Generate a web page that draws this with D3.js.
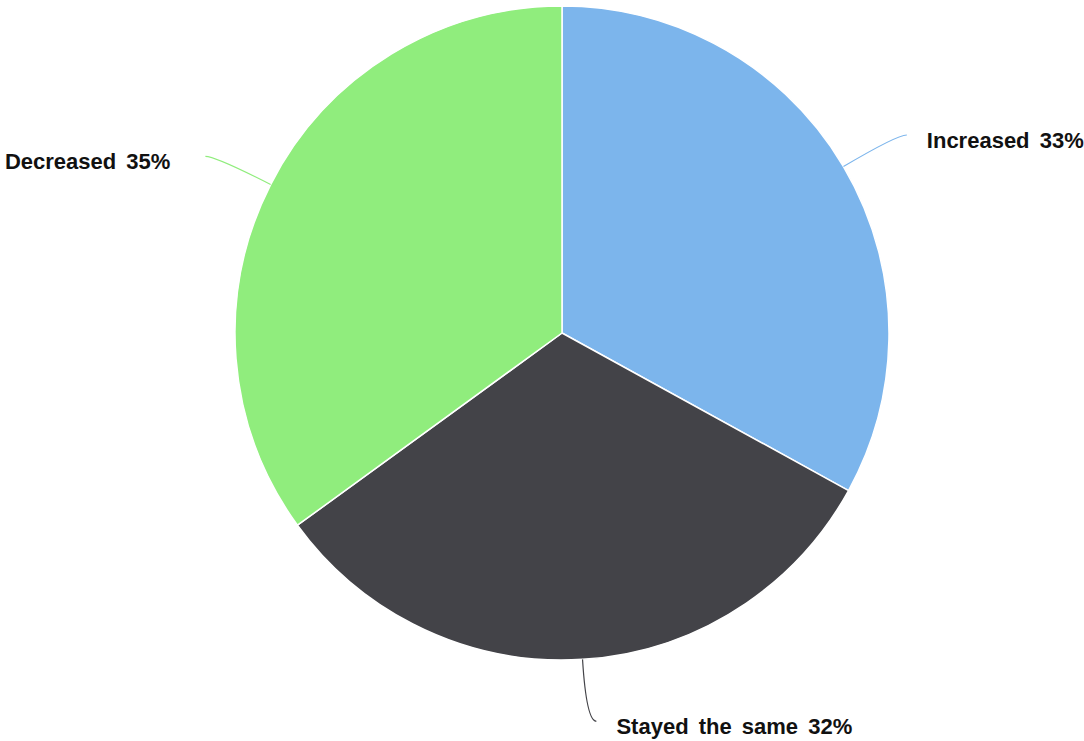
<!DOCTYPE html>
<html>
<head>
<meta charset="utf-8">
<script src="https://cdn.jsdelivr.net/npm/d3@7"></script>
<style>
  html, body { margin: 0; padding: 0; background: #ffffff; }
  svg { display: block; }
  .label { font-family: "Liberation Sans", Arial, sans-serif; font-weight: bold; font-size: 22px; word-spacing: 4px; fill: #111111; }
</style>
</head>
<body>
<svg id="chart" width="1084" height="741"></svg>
<script>
// Survey answers, in drawing order (clockwise from 12 o'clock)
const categories = ["Increased", "Stayed the same", "Decreased"];
const values = [33, 32, 35];
const colors = ["#7cb5ec", "#434348", "#90ed7d"];

const width = 1084, height = 741;
const cx = 562, cy = 333, radius = 327;
const labelRadius = radius + 62;

const svg = d3.select("#chart");
const g = svg.append("g").attr("transform", `translate(${cx},${cy})`);

const data = categories.map((c, i) => ({ name: c, value: values[i], color: colors[i] }));

const pie = d3.pie().value(d => d.value).sort(null);
const arcs = pie(data);
const arc = d3.arc().innerRadius(0).outerRadius(radius);

g.selectAll("path.slice")
  .data(arcs)
  .join("path")
  .attr("class", "slice")
  .attr("d", arc)
  .attr("fill", d => d.data.color)
  .attr("stroke", "#ffffff")
  .attr("stroke-width", 1.5)
  .attr("stroke-linejoin", "round");

// Point at a given radius along the slice's middle angle
function polar(a, r) {
  return [r * Math.sin(a), -r * Math.cos(a)];
}

arcs.forEach(d => {
  const mid = (d.startAngle + d.endAngle) / 2;
  const side = Math.sin(mid) >= 0 ? 1 : -1;
  const start = polar(mid, radius);
  const bend = polar(mid, labelRadius);
  const end = [bend[0] + side * 10, bend[1]];
  const gap = side > 0 ? 20 : 35;

  g.append("path")
    .attr("d", `M${start[0]},${start[1]} Q${bend[0]},${bend[1]} ${end[0]},${end[1]}`)
    .attr("fill", "none")
    .attr("stroke", d.data.color)
    .attr("stroke-width", 1.2);

  g.append("text")
    .attr("class", "label")
    .attr("x", end[0] + side * gap)
    .attr("y", end[1] + 5)
    .attr("dy", "0.35em")
    .attr("text-anchor", side > 0 ? "start" : "end")
    .text(`${d.data.name} ${d.data.value}%`);
});
</script>
</body>
</html>
